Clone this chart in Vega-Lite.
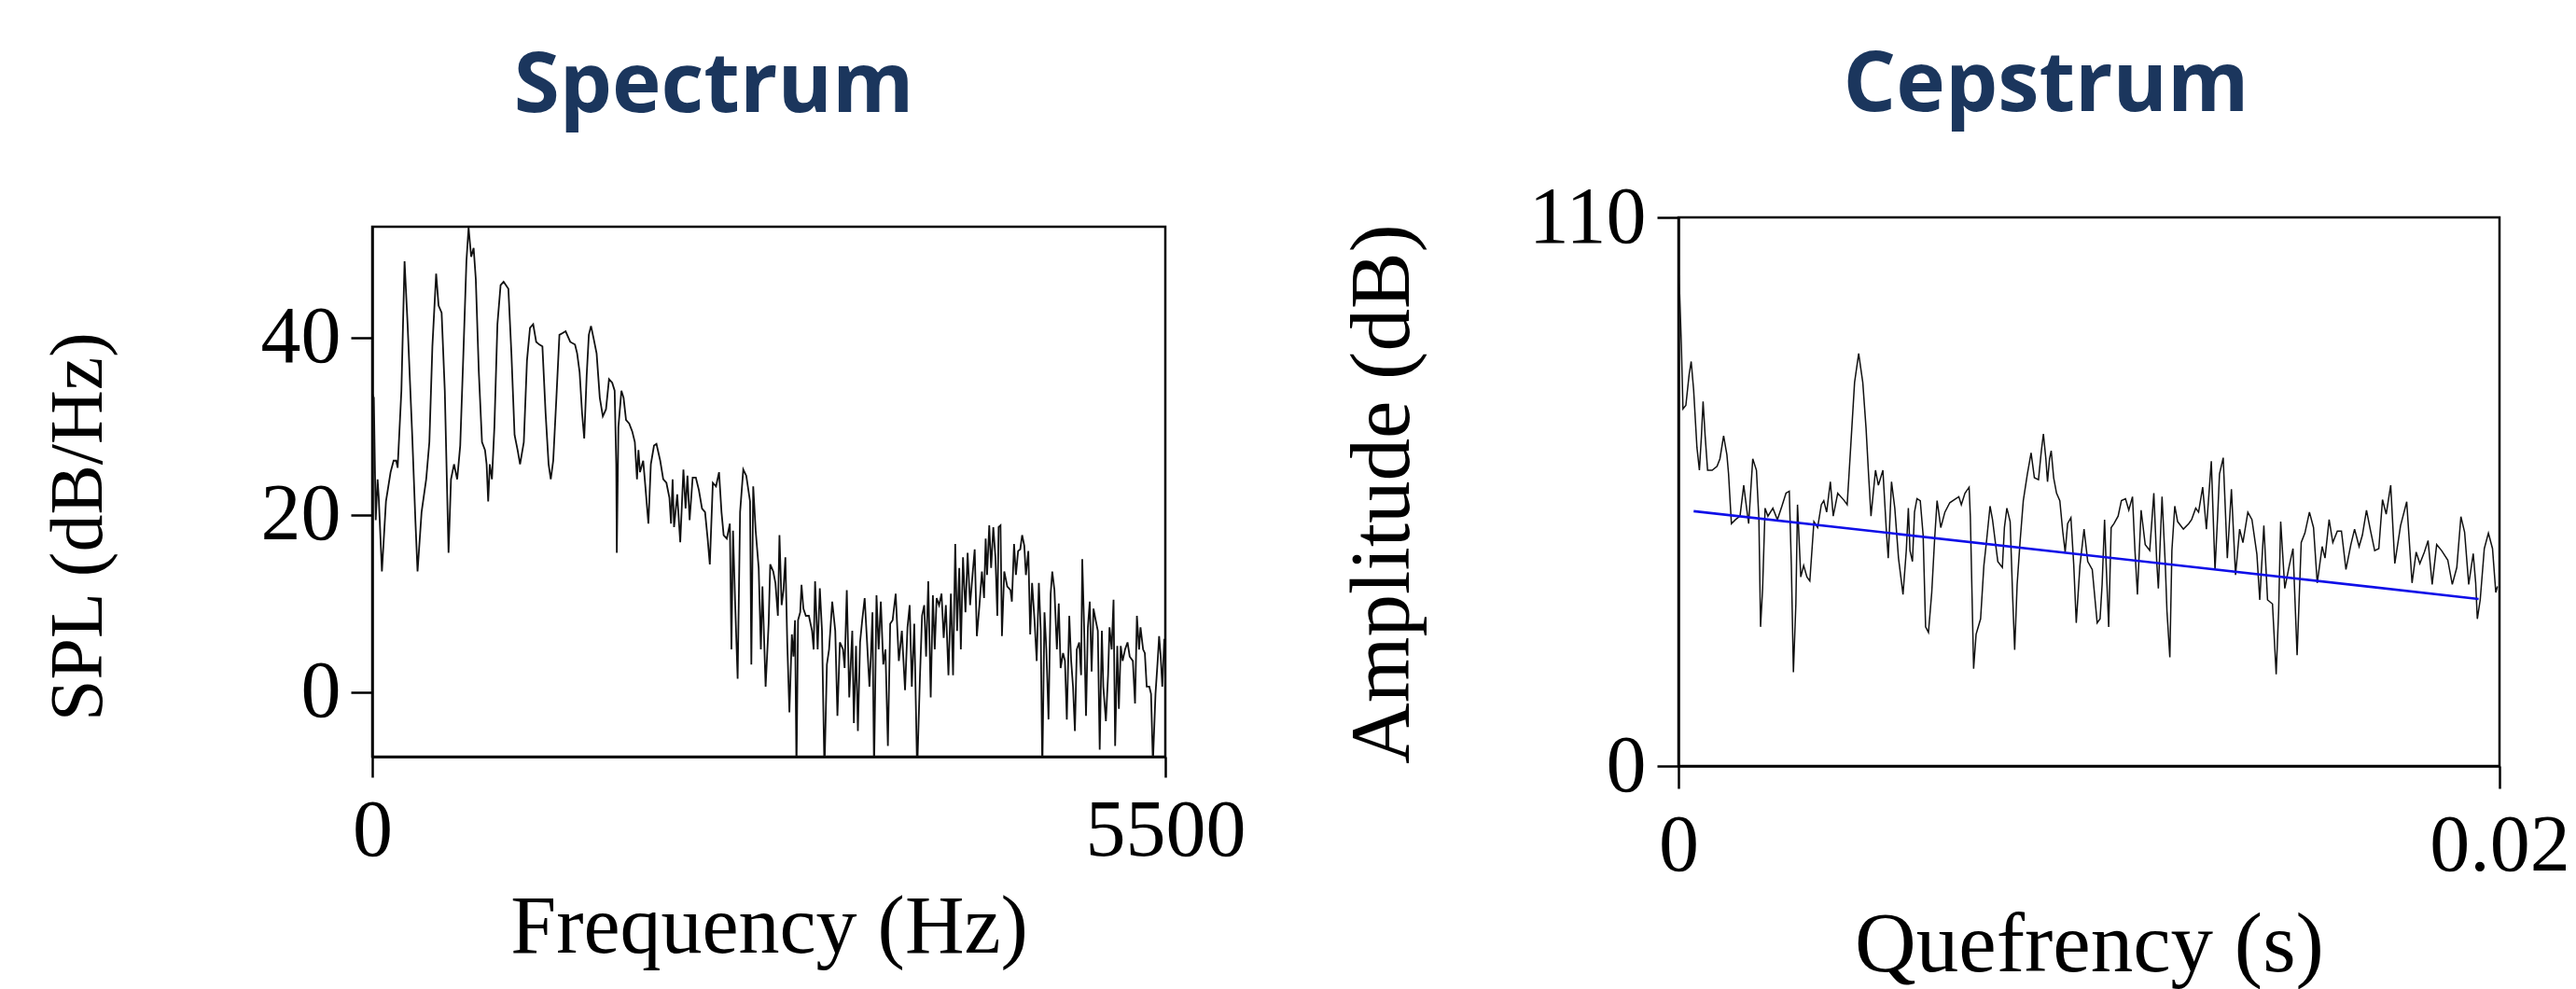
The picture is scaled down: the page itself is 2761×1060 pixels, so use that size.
{
  "$schema": "https://vega.github.io/schema/vega-lite/v6.json",
  "autosize": {"type": "pad"},
  "padding": {"left": 42, "top": 46, "right": 5, "bottom": 0},
  "background": "white",
  "bounds": "flush",
  "center": true,
  "spacing": 550,
  "config": {
    "view": {"stroke": "#000", "strokeWidth": 2.5},
    "axis": {"grid": false, "domainColor": "#000", "domainWidth": 2.5, "tickColor": "#000", "tickWidth": 2.5, "labelColor": "#000", "titleColor": "#000", "labelFont": "Liberation Serif", "titleFont": "Liberation Serif", "labelFontSize": 86, "titleFontWeight": "normal", "labelFlush": false, "labelOverlap": false, "format": "d"},
    "title": {"font": "Open Sans", "fontSize": 89, "fontWeight": "bold", "color": "#1b365d", "anchor": "middle", "frame": "group", "baseline": "alphabetic"}
  },
  "datasets": {
    "spectrum": [
{"f":2,"db":33.6},{"f":11,"db":33.2},{"f":24,"db":19.4},{"f":37,"db":24.0},{"f":45,"db":21.9},{"f":67,"db":13.6},{"f":95,"db":21.5},{"f":127,"db":24.8},{"f":148,"db":26.1},{"f":166,"db":26.1},{"f":176,"db":25.3},{"f":202,"db":34.0},{"f":224,"db":48.6},{"f":245,"db":41.5},{"f":277,"db":29.0},{"f":299,"db":19.4},{"f":314,"db":13.6},{"f":342,"db":20.3},{"f":374,"db":24.0},{"f":396,"db":28.2},{"f":417,"db":39.0},{"f":443,"db":47.2},{"f":460,"db":43.6},{"f":481,"db":42.8},{"f":503,"db":34.0},{"f":529,"db":15.7},{"f":546,"db":24.0},{"f":567,"db":25.7},{"f":589,"db":24.0},{"f":610,"db":27.8},{"f":632,"db":38.2},{"f":653,"db":48.6},{"f":668,"db":52.4},{"f":686,"db":49.1},{"f":703,"db":50.1},{"f":718,"db":46.6},{"f":739,"db":36.1},{"f":761,"db":28.2},{"f":782,"db":27.3},{"f":793,"db":25.7},{"f":804,"db":21.5},{"f":815,"db":25.7},{"f":830,"db":24.0},{"f":847,"db":29.9},{"f":868,"db":41.5},{"f":890,"db":45.9},{"f":911,"db":46.3},{"f":944,"db":45.5},{"f":965,"db":38.2},{"f":987,"db":29.0},{"f":1008,"db":27.3},{"f":1025,"db":25.7},{"f":1051,"db":28.2},{"f":1073,"db":37.4},{"f":1094,"db":41.1},{"f":1116,"db":41.5},{"f":1137,"db":39.5},{"f":1159,"db":39.2},{"f":1180,"db":39.0},{"f":1202,"db":31.5},{"f":1223,"db":25.7},{"f":1238,"db":24.0},{"f":1255,"db":26.1},{"f":1277,"db":33.2},{"f":1298,"db":40.3},{"f":1320,"db":40.5},{"f":1341,"db":40.7},{"f":1373,"db":39.5},{"f":1406,"db":39.2},{"f":1421,"db":38.2},{"f":1438,"db":36.1},{"f":1455,"db":31.5},{"f":1470,"db":28.6},{"f":1487,"db":35.7},{"f":1502,"db":40.3},{"f":1517,"db":41.3},{"f":1535,"db":39.9},{"f":1556,"db":38.2},{"f":1578,"db":33.2},{"f":1599,"db":31.1},{"f":1621,"db":31.9},{"f":1642,"db":35.3},{"f":1664,"db":34.9},{"f":1681,"db":34.0},{"f":1692,"db":25.7},{"f":1696,"db":15.7},{"f":1707,"db":29.9},{"f":1728,"db":34.0},{"f":1743,"db":33.2},{"f":1760,"db":30.7},{"f":1782,"db":30.3},{"f":1803,"db":29.4},{"f":1821,"db":28.2},{"f":1836,"db":24.0},{"f":1846,"db":27.3},{"f":1857,"db":24.8},{"f":1879,"db":26.1},{"f":1894,"db":23.2},{"f":1915,"db":19.0},{"f":1932,"db":25.7},{"f":1954,"db":27.8},{"f":1971,"db":28.0},{"f":1997,"db":26.1},{"f":2018,"db":24.0},{"f":2040,"db":23.6},{"f":2061,"db":21.9},{"f":2072,"db":19.0},{"f":2083,"db":24.0},{"f":2093,"db":18.6},{"f":2115,"db":22.3},{"f":2136,"db":16.9},{"f":2158,"db":25.1},{"f":2173,"db":20.7},{"f":2186,"db":24.4},{"f":2201,"db":19.4},{"f":2222,"db":24.2},{"f":2244,"db":24.2},{"f":2265,"db":22.8},{"f":2287,"db":20.7},{"f":2308,"db":20.3},{"f":2326,"db":17.3},{"f":2341,"db":14.4},{"f":2362,"db":23.6},{"f":2384,"db":23.2},{"f":2405,"db":24.8},{"f":2422,"db":20.3},{"f":2437,"db":17.7},{"f":2459,"db":17.3},{"f":2480,"db":19.0},{"f":2491,"db":4.8},{"f":2502,"db":18.2},{"f":2517,"db":9.8},{"f":2534,"db":1.5},{"f":2551,"db":20.3},{"f":2573,"db":25.1},{"f":2594,"db":24.4},
{"f":2620,"db":21.5},{"f":2629,"db":3.1},{"f":2642,"db":23.2},{"f":2659,"db":18.2},{"f":2680,"db":14.0},{"f":2695,"db":4.8},{"f":2706,"db":11.9},{"f":2728,"db":0.6},{"f":2749,"db":7.7},{"f":2760,"db":14.4},{"f":2781,"db":13.6},{"f":2796,"db":12.3},{"f":2813,"db":8.6},{"f":2824,"db":17.7},{"f":2839,"db":9.8},{"f":2852,"db":11.5},{"f":2865,"db":15.2},{"f":2878,"db":5.6},{"f":2893,"db":-2.3},{"f":2910,"db":6.5},{"f":2921,"db":4.0},{"f":2932,"db":8.1},{"f":2942,"db":-9},{"f":2953,"db":8.1},{"f":2968,"db":9.0},{"f":2977,"db":12.1},{"f":2990,"db":9.4},{"f":3007,"db":8.6},{"f":3028,"db":8.6},{"f":3050,"db":6.9},{"f":3061,"db":4.8},{"f":3071,"db":12.5},{"f":3089,"db":4.8},{"f":3104,"db":11.7},{"f":3119,"db":6.9},{"f":3136,"db":-9},{"f":3153,"db":3.1},{"f":3168,"db":4.8},{"f":3190,"db":10.2},{"f":3211,"db":6.9},{"f":3226,"db":-2.7},{"f":3243,"db":5.6},{"f":3265,"db":4.8},{"f":3276,"db":2.7},{"f":3291,"db":11.5},{"f":3308,"db":-0.6},{"f":3329,"db":6.9},{"f":3340,"db":-3.5},{"f":3355,"db":5.2},{"f":3368,"db":-4.4},{"f":3383,"db":5.6},{"f":3398,"db":8.1},{"f":3415,"db":10.6},{"f":3430,"db":6.1},{"f":3448,"db":0.6},{"f":3458,"db":4.0},{"f":3469,"db":9.0},{"f":3480,"db":-9},{"f":3497,"db":10.9},{"f":3512,"db":4.8},{"f":3527,"db":10.2},{"f":3544,"db":3.1},{"f":3559,"db":4.8},{"f":3576,"db":-6.1},{"f":3592,"db":7.7},{"f":3609,"db":8.1},{"f":3630,"db":11.1},{"f":3652,"db":3.5},{"f":3673,"db":6.9},{"f":3695,"db":0.2},{"f":3712,"db":7.3},{"f":3727,"db":9.8},{"f":3742,"db":0.6},{"f":3759,"db":7.7},{"f":3779,"db":-9},{"f":3798,"db":1.5},{"f":3813,"db":8.6},{"f":3828,"db":9.8},{"f":3841,"db":4.0},{"f":3856,"db":12.5},{"f":3873,"db":-0.6},{"f":3888,"db":10.9},{"f":3901,"db":4.8},{"f":3914,"db":10.6},{"f":3931,"db":9.8},{"f":3948,"db":11.1},{"f":3963,"db":6.1},{"f":3978,"db":9.8},{"f":3996,"db":1.9},{"f":4013,"db":11.1},{"f":4028,"db":1.9},{"f":4043,"db":16.7},{"f":4056,"db":6.9},{"f":4071,"db":14.0},{"f":4082,"db":4.8},{"f":4097,"db":15.2},{"f":4114,"db":9.0},{"f":4129,"db":15.7},{"f":4146,"db":9.8},{"f":4163,"db":13.2},{"f":4178,"db":16.1},{"f":4193,"db":6.3},{"f":4211,"db":9.8},{"f":4228,"db":13.6},{"f":4243,"db":10.6},{"f":4254,"db":17.3},{"f":4264,"db":13.2},{"f":4279,"db":18.8},{"f":4292,"db":14.0},{"f":4307,"db":18.6},{"f":4322,"db":15.2},{"f":4335,"db":8.6},{"f":4344,"db":18.6},{"f":4357,"db":18.8},{"f":4367,"db":6.3},{"f":4383,"db":13.6},{"f":4404,"db":11.9},{"f":4426,"db":11.5},{"f":4436,"db":10.2},{"f":4451,"db":16.7},{"f":4464,"db":13.2},{"f":4479,"db":15.9},{"f":4494,"db":16.1},{"f":4507,"db":17.7},{"f":4522,"db":16.5},{"f":4533,"db":13.2},{"f":4550,"db":15.9},{"f":4563,"db":6.5},{"f":4576,"db":12.3},{"f":4593,"db":8.1},{"f":4608,"db":3.5},{"f":4623,"db":12.3},{"f":4636,"db":6.9},{"f":4647,"db":-9},{"f":4662,"db":9.0},{"f":4675,"db":4.8},{"f":4690,"db":-3.1},{"f":4705,"db":11.1},{"f":4716,"db":13.6},{"f":4731,"db":11.5},{"f":4748,"db":4.8},{"f":4761,"db":10.0},{"f":4774,"db":2.7},{"f":4791,"db":4.4},{"f":4804,"db":3.5},{"f":4817,"db":-3.1},{"f":4834,"db":8.6},{"f":4847,"db":3.5},{"f":4860,"db":0.6},{"f":4873,"db":-4.4},{"f":4886,"db":4.8},{"f":4903,"db":5.6},{"f":4916,"db":1.9},{"f":4924,"db":15.0},{"f":4937,"db":7.3},{"f":4950,"db":-2.7},{"f":4963,"db":7.3},{"f":4976,"db":10.2},{"f":4989,"db":2.3},{"f":5002,"db":9.4},{"f":5017,"db":8.1},{"f":5032,"db":6.9},{"f":5045,"db":-6.5},{"f":5060,"db":6.9},{"f":5070,"db":0.6},{"f":5088,"db":-3.3},{"f":5103,"db":1.9},{"f":5113,"db":7.3},{"f":5128,"db":4.8},{"f":5141,"db":10.4},{"f":5152,"db":-6.1},{"f":5167,"db":5.2},{"f":5178,"db":-1.9},{"f":5191,"db":5.2},{"f":5204,"db":3.5},{"f":5221,"db":4.8},{"f":5238,"db":5.6},{"f":5253,"db":4.0},{"f":5275,"db":3.5},{"f":5290,"db":-1.3},{"f":5303,"db":8.6},{"f":5318,"db":4.8},{"f":5328,"db":7.3},{"f":5346,"db":4.8},{"f":5358,"db":4.4},{"f":5371,"db":0.6},{"f":5389,"db":0.6},{"f":5401,"db":-0.2},{"f":5414,"db":-8},{"f":5432,"db":-0.2},{"f":5447,"db":3.5},{"f":5457,"db":6.3},{"f":5468,"db":4.0},{"f":5479,"db":0.6},{"f":5493,"db":6.0}
    ],
    "cepstrum": [
{"q":0.00001,"a":98.4},{"q":0.00003,"a":94.5},{"q":0.00007,"a":84.6},{"q":0.00011,"a":71.6},{"q":0.00018,"a":72.3},{"q":0.00026,"a":78.5},{"q":0.00031,"a":81.1},{"q":0.00037,"a":75.4},{"q":0.00045,"a":63.9},{"q":0.00051,"a":59.3},{"q":0.00056,"a":66.2},{"q":0.00060,"a":73.1},{"q":0.00065,"a":66.2},{"q":0.00071,"a":59.3},{"q":0.00082,"a":59.3},{"q":0.00094,"a":60.1},{"q":0.00101,"a":61.6},{"q":0.00110,"a":66.2},{"q":0.00118,"a":62.4},{"q":0.00122,"a":58.6},{"q":0.00129,"a":48.6},{"q":0.00139,"a":49.4},{"q":0.00150,"a":50.1},{"q":0.00159,"a":56.3},{"q":0.00166,"a":51.7},{"q":0.00171,"a":48.6},{"q":0.00181,"a":61.6},{"q":0.00190,"a":59.3},{"q":0.00196,"a":49.4},{"q":0.00200,"a":27.9},{"q":0.00205,"a":35.6},{"q":0.00211,"a":51.7},{"q":0.00218,"a":50.1},{"q":0.00230,"a":51.7},{"q":0.00241,"a":49.4},{"q":0.00252,"a":52.1},{"q":0.00262,"a":54.7},{"q":0.00270,"a":55.1},{"q":0.00275,"a":40.2},{"q":0.00280,"a":18.8},{"q":0.00286,"a":32.5},{"q":0.00290,"a":52.4},{"q":0.00298,"a":37.9},{"q":0.00305,"a":40.2},{"q":0.00313,"a":37.9},{"q":0.00320,"a":37.1},{"q":0.00330,"a":49.0},{"q":0.00339,"a":47.8},{"q":0.00348,"a":52.4},{"q":0.00354,"a":53.2},{"q":0.00361,"a":50.9},{"q":0.00370,"a":57.0},{"q":0.00377,"a":50.1},{"q":0.00388,"a":54.7},{"q":0.00404,"a":53.2},{"q":0.00411,"a":52.4},{"q":0.00419,"a":63.2},{"q":0.00429,"a":76.9},{"q":0.00439,"a":82.7},{"q":0.00449,"a":76.9},{"q":0.00457,"a":67.7},{"q":0.00463,"a":58.6},{"q":0.00469,"a":50.1},{"q":0.00480,"a":59.3},{"q":0.00487,"a":56.3},{"q":0.00498,"a":59.3},{"q":0.00506,"a":47.8},{"q":0.00511,"a":41.7},{"q":0.00519,"a":57.0},{"q":0.00527,"a":51.7},{"q":0.00536,"a":41.7},{"q":0.00547,"a":34.4},{"q":0.00555,"a":43.2},{"q":0.00560,"a":51.7},{"q":0.00564,"a":43.2},{"q":0.00570,"a":41.0},{"q":0.00575,"a":50.9},{"q":0.00581,"a":53.6},{"q":0.00589,"a":53.2},{"q":0.00596,"a":46.3},{"q":0.00602,"a":27.9},{"q":0.00609,"a":26.8},{"q":0.00617,"a":34.8},{"q":0.00624,"a":45.5},{"q":0.00630,"a":53.2},{"q":0.00634,"a":50.9},{"q":0.00639,"a":47.8},{"q":0.00649,"a":50.9},{"q":0.00661,"a":52.8},{"q":0.00676,"a":53.6},{"q":0.00683,"a":54.0},{"q":0.00689,"a":52.4},{"q":0.00698,"a":54.7},{"q":0.00708,"a":55.9},{"q":0.00711,"a":50.1},{"q":0.00719,"a":19.5},{"q":0.00725,"a":26.4},{"q":0.00736,"a":29.5},{"q":0.00744,"a":40.2},{"q":0.00751,"a":45.5},{"q":0.00759,"a":52.1},{"q":0.00765,"a":49.4},{"q":0.00772,"a":44.8},{"q":0.00778,"a":41.0},{"q":0.00789,"a":39.8},{"q":0.00794,"a":47.8},{"q":0.00800,"a":51.7},{"q":0.00808,"a":49.0},{"q":0.00814,"a":34.1},{"q":0.00819,"a":23.3},{"q":0.00825,"a":36.4},{"q":0.00832,"a":44.8},{"q":0.00840,"a":53.2},{"q":0.00850,"a":58.6},{"q":0.00859,"a":62.8},{"q":0.00867,"a":57.8},{"q":0.00877,"a":57.4},{"q":0.00884,"a":63.2},{"q":0.00889,"a":66.6},{"q":0.00895,"a":61.6},{"q":0.00899,"a":57.0},{"q":0.00904,"a":61.6},{"q":0.00908,"a":63.2},{"q":0.00914,"a":57.8},{"q":0.00921,"a":54.7},{"q":0.00929,"a":53.2},{"q":0.00936,"a":47.1},{"q":0.00942,"a":42.9},{"q":0.00948,"a":48.6},{"q":0.00956,"a":49.8},{"q":0.00963,"a":40.2},{"q":0.00969,"a":28.7},{"q":0.00978,"a":40.2},{"q":0.00988,"a":47.5},{"q":0.00997,"a":41.0},{"q":0.01008,"a":39.4},{"q":0.01020,"a":28.7},{"q":0.01027,"a":29.5},{"q":0.01032,"a":36.4},{"q":0.01038,"a":49.4},{"q":0.01042,"a":40.2},{"q":0.01048,"a":27.9},{"q":0.01054,"a":47.8},{"q":0.01061,"a":48.6},{"q":0.01071,"a":50.1},{"q":0.01079,"a":53.2},{"q":0.01089,"a":53.6},{"q":0.01097,"a":51.3},{"q":0.01106,"a":54.0},{"q":0.01112,"a":43.2},{"q":0.01118,"a":34.4},{"q":0.01127,"a":51.3},{"q":0.01137,"a":44.4},{"q":0.01148,"a":43.2},{"q":0.01158,"a":54.7},{"q":0.01165,"a":41.0},{"q":0.01169,"a":35.6},{"q":0.01178,"a":54.0},{"q":0.01186,"a":40.2},{"q":0.01190,"a":31.0},{"q":0.01197,"a":21.8},{"q":0.01202,"a":43.2},{"q":0.01209,"a":52.1},{"q":0.01216,"a":49.0},{"q":0.01230,"a":47.5},{"q":0.01243,"a":48.6},{"q":0.01250,"a":49.4},{"q":0.01260,"a":51.7},{"q":0.01267,"a":50.9},{"q":0.01277,"a":55.9},{"q":0.01286,"a":47.5},{"q":0.01298,"a":61.1},{"q":0.01307,"a":39.4},{"q":0.01313,"a":49.4},{"q":0.01318,"a":58.6},{"q":0.01327,"a":61.8},{"q":0.01337,"a":41.7},{"q":0.01347,"a":55.5},{"q":0.01357,"a":38.3},{"q":0.01367,"a":47.5},{"q":0.01375,"a":44.8},{"q":0.01387,"a":50.9},{"q":0.01397,"a":49.4},{"q":0.01409,"a":42.5},{"q":0.01416,"a":33.3},{"q":0.01426,"a":48.2},{"q":0.01435,"a":33.3},{"q":0.01447,"a":32.5},{"q":0.01456,"a":18.4},{"q":0.01462,"a":31.0},{"q":0.01467,"a":49.0},{"q":0.01477,"a":35.6},{"q":0.01488,"a":40.2},{"q":0.01497,"a":43.6},{"q":0.01507,"a":22.2},{"q":0.01517,"a":44.8},{"q":0.01526,"a":46.7},{"q":0.01537,"a":50.9},{"q":0.01547,"a":47.8},{"q":0.01556,"a":36.7},{"q":0.01568,"a":44.0},{"q":0.01575,"a":41.7},{"q":0.01585,"a":49.4},{"q":0.01594,"a":44.8},{"q":0.01605,"a":47.1},{"q":0.01615,"a":47.1},{"q":0.01626,"a":39.4},{"q":0.01638,"a":44.4},{"q":0.01647,"a":47.5},{"q":0.01658,"a":44.0},{"q":0.01666,"a":46.3},{"q":0.01676,"a":51.3},{"q":0.01686,"a":47.1},{"q":0.01696,"a":43.2},{"q":0.01706,"a":43.6},{"q":0.01715,"a":53.4},{"q":0.01724,"a":50.5},{"q":0.01735,"a":56.3},{"q":0.01745,"a":40.6},{"q":0.01759,"a":48.2},{"q":0.01774,"a":53.0},{"q":0.01787,"a":36.7},{"q":0.01797,"a":42.9},{"q":0.01806,"a":40.6},{"q":0.01817,"a":42.9},{"q":0.01826,"a":45.2},{"q":0.01836,"a":36.4},{"q":0.01847,"a":44.4},{"q":0.01859,"a":43.2},{"q":0.01874,"a":41.3},{"q":0.01885,"a":36.4},{"q":0.01896,"a":39.8},{"q":0.01906,"a":50.0},{"q":0.01915,"a":46.9},{"q":0.01925,"a":36.4},{"q":0.01936,"a":42.6},{"q":0.01942,"a":36.7},{"q":0.01946,"a":29.5},{"q":0.01953,"a":33.3},{"q":0.01963,"a":43.6},{"q":0.01973,"a":46.7},{"q":0.01983,"a":43.6},{"q":0.01991,"a":34.8},{"q":0.01995,"a":36.0}
    ],
    "fit": [{"q":0.00037,"a":51.1},{"q":0.01949,"a":33.5}]
  },
  "hconcat": [
    {
      "title": {"text": "Spectrum", "dx": -59, "offset": 104},
      "width": 850,
      "height": 568,
      "data": {"name": "spectrum"},
      "mark": {"type": "line", "color": "#111111", "strokeWidth": 1.8, "clip": true},
      "encoding": {
        "x": {"field": "f", "type": "quantitative", "scale": {"domain": [0, 5500], "nice": false, "zero": false},
              "axis": {"values": [0, 5500], "title": "Frequency (Hz)", "titleFontSize": 88, "tickSize": 22, "labelPadding": 15, "titleBaseline": "alphabetic", "titleY": 209}},
        "y": {"field": "db", "type": "quantitative", "scale": {"domain": [-7.3, 52.5], "nice": false, "zero": false},
              "axis": {"values": [0, 20, 40], "title": "SPL (dB/Hz)", "titleFontSize": 80, "tickSize": 23, "labelPadding": 11, "titleBaseline": "middle", "titleX": -315, "titleY": 321}}
      }
    },
    {
      "title": {"text": "Cepstrum", "dx": -46, "offset": 52},
      "width": 880,
      "height": 588,
      "encoding": {
        "x": {"field": "q", "type": "quantitative", "scale": {"domain": [0, 0.02], "nice": false, "zero": false},
              "axis": {"values": [0, 0.02], "labelExpr": "datum.value === 0 ? '0' : format(datum.value, '.2f')", "title": "Quefrency (s)", "titleFontSize": 91, "tickSize": 24, "labelPadding": 19, "titleBaseline": "alphabetic", "titleY": 219}},
        "y": {"field": "a", "type": "quantitative", "scale": {"domain": [0, 110], "nice": false},
              "axis": {"values": [0, 110], "title": "Amplitude (dB)", "titleFontSize": 91, "tickSize": 23, "labelPadding": 12, "titleBaseline": "middle", "titleX": -317, "titleY": 296}}
      },
      "layer": [
        {"data": {"name": "cepstrum"}, "mark": {"type": "line", "color": "#111111", "strokeWidth": 1.5, "clip": true}},
        {"data": {"name": "fit"}, "mark": {"type": "line", "color": "#0f0fe8", "strokeWidth": 2.6}}
      ]
    }
  ]
}
